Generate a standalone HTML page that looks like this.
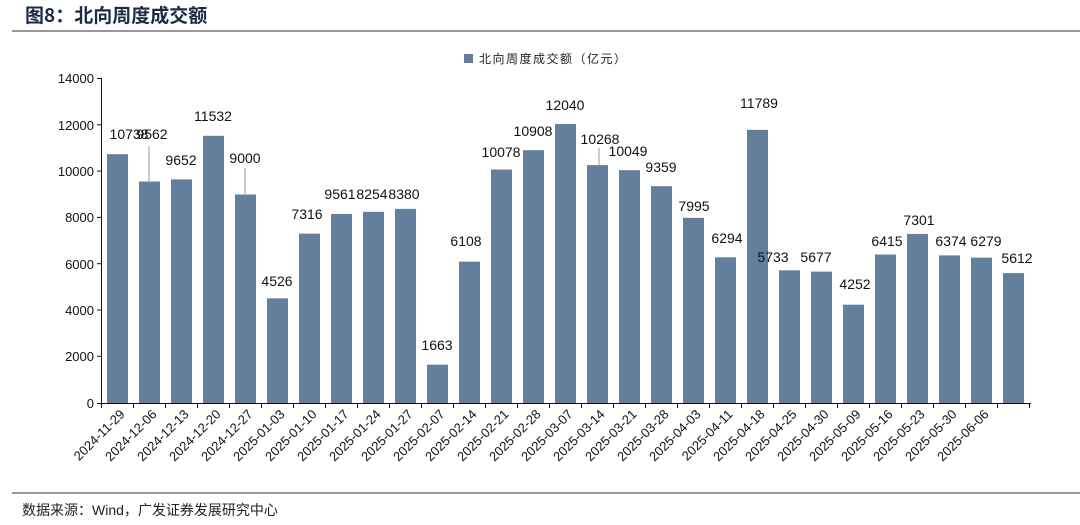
<!DOCTYPE html>
<html><head><meta charset="utf-8"><style>
body{margin:0;background:#fff;}
svg{display:block;font-family:"Liberation Sans","Noto Sans CJK SC",sans-serif;}
</style></head><body>
<svg width="1080" height="525" viewBox="0 0 1080 525">
<text x="25" y="22" font-size="19" font-weight="bold" fill="#1c2a48" font-family="'Noto Sans CJK SC',sans-serif">图8：北向周度成交额</text>
<line x1="12" y1="31" x2="1080" y2="31" stroke="#777" stroke-width="1.5"/>
<rect x="464" y="54" width="9" height="9" fill="#647f9b"/>
<text x="479" y="63" font-size="12" fill="#222" letter-spacing="1.5" font-family="'Noto Sans CJK SC',sans-serif">北向周度成交额（亿元）</text>
<g font-size="13" fill="#111" text-anchor="end">
<text x="94" y="83">14000</text><text x="94" y="130">12000</text><text x="94" y="176">10000</text>
<text x="94" y="222">8000</text><text x="94" y="269">6000</text><text x="94" y="315">4000</text>
<text x="94" y="361">2000</text><text x="94" y="408">0</text>
</g>
<g fill="#647f9b">
<rect x="107" y="154.2" width="21" height="249.1"/>
<rect x="139" y="181.5" width="21" height="221.8"/>
<rect x="171" y="179.4" width="21" height="223.9"/>
<rect x="203" y="135.8" width="21" height="267.5"/>
<rect x="235" y="194.5" width="21" height="208.8"/>
<rect x="267" y="298.3" width="21" height="105"/>
<rect x="299" y="233.6" width="21" height="169.7"/>
<rect x="331" y="214" width="21" height="189.3"/>
<rect x="363" y="211.8" width="21" height="191.5"/>
<rect x="395" y="208.9" width="21" height="194.4"/>
<rect x="427" y="364.7" width="21" height="38.6"/>
<rect x="459" y="261.6" width="21" height="141.7"/>
<rect x="491" y="169.5" width="21" height="233.8"/>
<rect x="523" y="150.2" width="21" height="253.1"/>
<rect x="555" y="124" width="21" height="279.3"/>
<rect x="587" y="165.1" width="21" height="238.2"/>
<rect x="619" y="170.2" width="21" height="233.1"/>
<rect x="651" y="186.2" width="21" height="217.1"/>
<rect x="683" y="217.8" width="21" height="185.5"/>
<rect x="715" y="257.3" width="21" height="146"/>
<rect x="747" y="129.8" width="21" height="273.5"/>
<rect x="779" y="270.3" width="21" height="133"/>
<rect x="811" y="271.6" width="21" height="131.7"/>
<rect x="843" y="304.7" width="21" height="98.6"/>
<rect x="875" y="254.5" width="21" height="148.8"/>
<rect x="907" y="233.9" width="21" height="169.4"/>
<rect x="939" y="255.4" width="21" height="147.9"/>
<rect x="971" y="257.6" width="21" height="145.7"/>
<rect x="1003" y="273.1" width="21" height="130.2"/>
</g>
<g stroke="#111" stroke-width="1">
<line x1="101.5" y1="78" x2="101.5" y2="404"/>
<line x1="97" y1="78.5" x2="101" y2="78.5"/><line x1="97" y1="124.8" x2="101" y2="124.8"/>
<line x1="97" y1="171.1" x2="101" y2="171.1"/><line x1="97" y1="217.4" x2="101" y2="217.4"/>
<line x1="97" y1="263.7" x2="101" y2="263.7"/><line x1="97" y1="310" x2="101" y2="310"/>
<line x1="97" y1="356.3" x2="101" y2="356.3"/><line x1="97" y1="403.5" x2="1031" y2="403.5"/>
<path d="M101.5 403v5M133.5 403v5M165.5 403v5M197.5 403v5M229.5 403v5M261.5 403v5M293.5 403v5M325.5 403v5M357.5 403v5M389.5 403v5M421.5 403v5M453.5 403v5M485.5 403v5M517.5 403v5M549.5 403v5M581.5 403v5M613.5 403v5M645.5 403v5M677.5 403v5M709.5 403v5M741.5 403v5M773.5 403v5M805.5 403v5M837.5 403v5M869.5 403v5M901.5 403v5M933.5 403v5M965.5 403v5M997.5 403v5M1029.5 403v5"/>
</g>
<g font-size="13" fill="#111" text-anchor="end">
<text x="125.5" y="415" transform="rotate(-45 125.5 415)">2024-11-29</text>
<text x="157.5" y="415" transform="rotate(-45 157.5 415)">2024-12-06</text>
<text x="189.5" y="415" transform="rotate(-45 189.5 415)">2024-12-13</text>
<text x="221.5" y="415" transform="rotate(-45 221.5 415)">2024-12-20</text>
<text x="253.5" y="415" transform="rotate(-45 253.5 415)">2024-12-27</text>
<text x="285.5" y="415" transform="rotate(-45 285.5 415)">2025-01-03</text>
<text x="317.5" y="415" transform="rotate(-45 317.5 415)">2025-01-10</text>
<text x="349.5" y="415" transform="rotate(-45 349.5 415)">2025-01-17</text>
<text x="381.5" y="415" transform="rotate(-45 381.5 415)">2025-01-24</text>
<text x="413.5" y="415" transform="rotate(-45 413.5 415)">2025-01-27</text>
<text x="445.5" y="415" transform="rotate(-45 445.5 415)">2025-02-07</text>
<text x="477.5" y="415" transform="rotate(-45 477.5 415)">2025-02-14</text>
<text x="509.5" y="415" transform="rotate(-45 509.5 415)">2025-02-21</text>
<text x="541.5" y="415" transform="rotate(-45 541.5 415)">2025-02-28</text>
<text x="573.5" y="415" transform="rotate(-45 573.5 415)">2025-03-07</text>
<text x="605.5" y="415" transform="rotate(-45 605.5 415)">2025-03-14</text>
<text x="637.5" y="415" transform="rotate(-45 637.5 415)">2025-03-21</text>
<text x="669.5" y="415" transform="rotate(-45 669.5 415)">2025-03-28</text>
<text x="701.5" y="415" transform="rotate(-45 701.5 415)">2025-04-03</text>
<text x="733.5" y="415" transform="rotate(-45 733.5 415)">2025-04-11</text>
<text x="765.5" y="415" transform="rotate(-45 765.5 415)">2025-04-18</text>
<text x="797.5" y="415" transform="rotate(-45 797.5 415)">2025-04-25</text>
<text x="829.5" y="415" transform="rotate(-45 829.5 415)">2025-04-30</text>
<text x="861.5" y="415" transform="rotate(-45 861.5 415)">2025-05-09</text>
<text x="893.5" y="415" transform="rotate(-45 893.5 415)">2025-05-16</text>
<text x="925.5" y="415" transform="rotate(-45 925.5 415)">2025-05-23</text>
<text x="957.5" y="415" transform="rotate(-45 957.5 415)">2025-05-30</text>
<text x="989.5" y="415" transform="rotate(-45 989.5 415)">2025-06-06</text>
</g>
<g font-size="14" fill="#111" text-anchor="middle">
<text x="129" y="139">10738</text><text x="152" y="139">9562</text><text x="181" y="165">9652</text>
<text x="213" y="121">11532</text><text x="245" y="163">9000</text><text x="277" y="286">4526</text>
<text x="307" y="219">7316</text><text x="340" y="199">9561</text><text x="372" y="199">8254</text>
<text x="404" y="199">8380</text><text x="437" y="350">1663</text><text x="466" y="246">6108</text>
<text x="501" y="157">10078</text><text x="533" y="136">10908</text><text x="565" y="110">12040</text>
<text x="600" y="144">10268</text><text x="628" y="156">10049</text><text x="661" y="172">9359</text>
<text x="694" y="211">7995</text><text x="727" y="243">6294</text><text x="759" y="108">11789</text>
<text x="773" y="262">5733</text><text x="816" y="262">5677</text><text x="855" y="289">4252</text>
<text x="887" y="246">6415</text><text x="919" y="225">7301</text><text x="951" y="246">6374</text>
<text x="986" y="246">6279</text><text x="1017" y="263">5612</text>
</g>
<g stroke="#999" stroke-width="1">
<line x1="149" y1="146" x2="149" y2="181"/>
<line x1="245" y1="168" x2="245" y2="194"/>
<line x1="599" y1="148" x2="599" y2="165"/>
</g>
<line x1="12" y1="493" x2="1080" y2="493" stroke="#777" stroke-width="1.5"/>
<text x="22" y="515" font-size="14" fill="#222" font-family="'Noto Sans CJK SC',sans-serif">数据来源：<tspan font-family="'Liberation Sans',sans-serif">Wind</tspan>，广发证券发展研究中心</text>
</svg>
</body></html>
